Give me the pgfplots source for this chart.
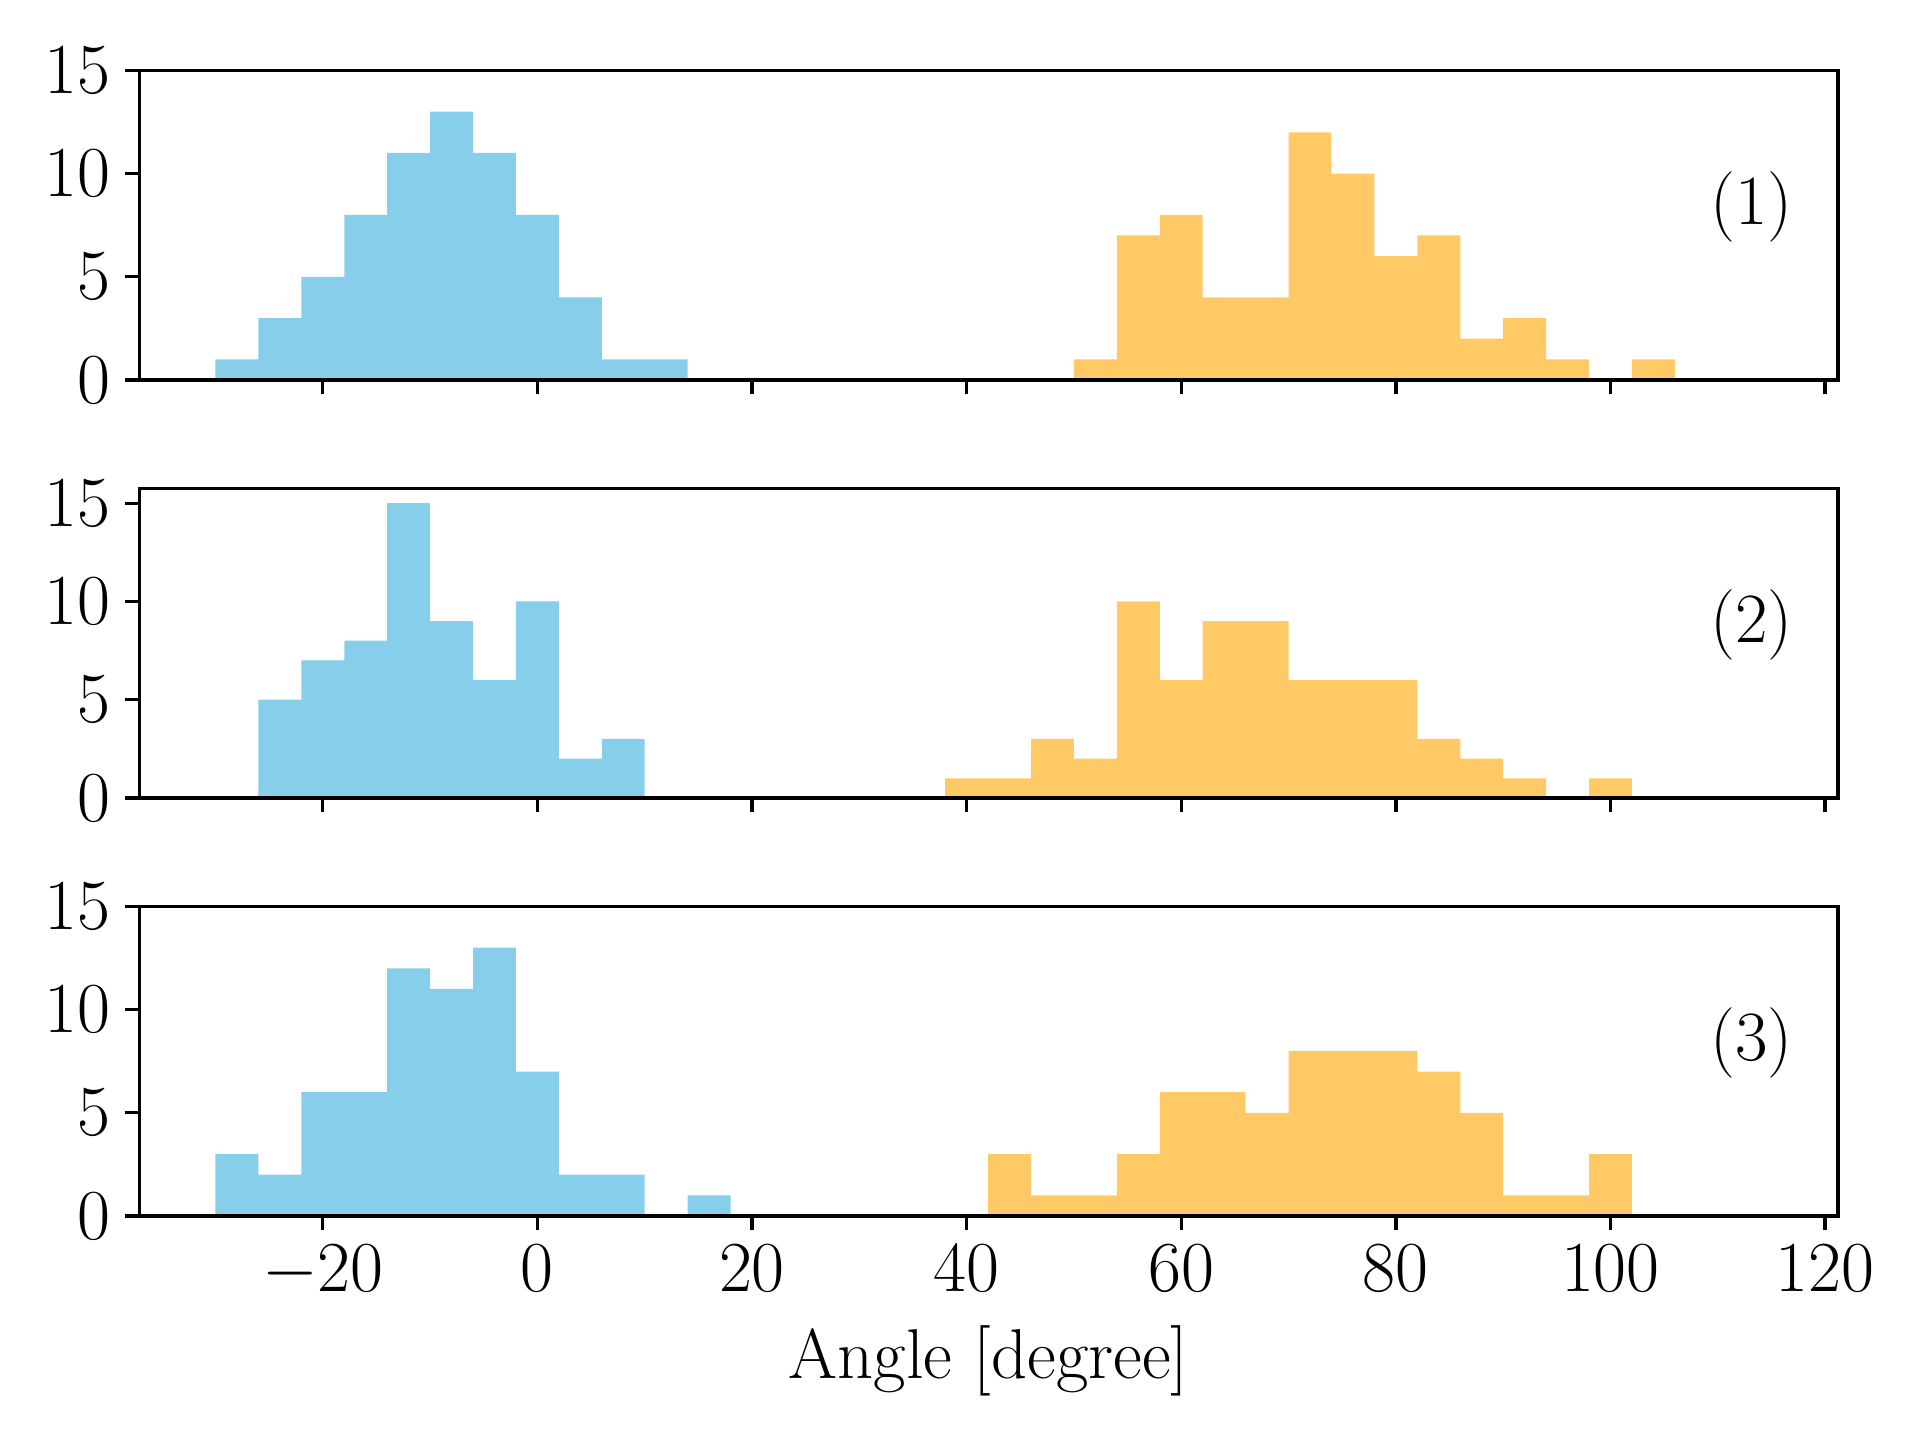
\documentclass[border=0pt]{standalone}
\usepackage{pgfplots}
\pgfplotsset{compat=1.18}
\definecolor{sky}{HTML}{87CEEB}
\definecolor{org}{HTML}{FFC966}
\pgfplotsset{
  panel/.style={
    scale only axis, width=409.2pt, height=74.56pt,
    xmin=-37.1, xmax=121.2, ymin=0,
    xtick={-20,0,...,120},
    ytick={0,5,10,15},
    tick align=outside, tick pos=left,
    major tick length=3.5pt,
    axis line style={line width=0.8pt},
    every tick/.style={black, line width=0.8pt},
    tick label style={font=\fontsize{17}{20}\selectfont},
    label style={font=\fontsize{17}{20}\selectfont},
    axis on top,
  },
}
\begin{document}
\begin{tikzpicture}
\path[use as bounding box] (-33.56pt,-53.96pt) rectangle (428.97pt,292.93pt);
% panel 1
\begin{axis}[panel, at={(0,201.4pt)}, anchor=south west, ymax=15, xticklabels={}]
\addplot[ybar interval, fill=sky, draw=none] coordinates {
(-30,1) (-26,3) (-22,5) (-18,8) (-14,11) (-10,13) (-6,11) (-2,8) (2,4) (6,1) (10,1) (14,0)};
\addplot[ybar interval, fill=org, draw=none] coordinates {
(50,1) (54,7) (58,8) (62,4) (66,4) (70,12) (74,10) (78,6) (82,7) (86,2) (90,3) (94,1) (98,0) (102,1) (106,0)};
\node[font=\fontsize{17}{20}\selectfont] at (rel axis cs:0.949,0.56) {(1)};
\end{axis}
% panel 2
\begin{axis}[panel, at={(0,100.7pt)}, anchor=south west, ymax=15.75, xticklabels={}]
\addplot[ybar interval, fill=sky, draw=none] coordinates {
(-26,5) (-22,7) (-18,8) (-14,15) (-10,9) (-6,6) (-2,10) (2,2) (6,3) (10,0)};
\addplot[ybar interval, fill=org, draw=none] coordinates {
(38,1) (42,1) (46,3) (50,2) (54,10) (58,6) (62,9) (66,9) (70,6) (74,6) (78,6) (82,3) (86,2) (90,1) (94,0) (98,1) (102,0)};
\node[font=\fontsize{17}{20}\selectfont] at (rel axis cs:0.949,0.56) {(2)};
\end{axis}
% panel 3
\begin{axis}[panel, at={(0,0)}, anchor=south west, ymax=15, xlabel={Angle [degree]}]
\addplot[ybar interval, fill=sky, draw=none] coordinates {
(-30,3) (-26,2) (-22,6) (-18,6) (-14,12) (-10,11) (-6,13) (-2,7) (2,2) (6,2) (10,0) (14,1) (18,0)};
\addplot[ybar interval, fill=org, draw=none] coordinates {
(42,3) (46,1) (50,1) (54,3) (58,6) (62,6) (66,5) (70,8) (74,8) (78,8) (82,7) (86,5) (90,1) (94,1) (98,3) (102,0)};
\node[font=\fontsize{17}{20}\selectfont] at (rel axis cs:0.949,0.56) {(3)};
\end{axis}
\end{tikzpicture}
\end{document}
